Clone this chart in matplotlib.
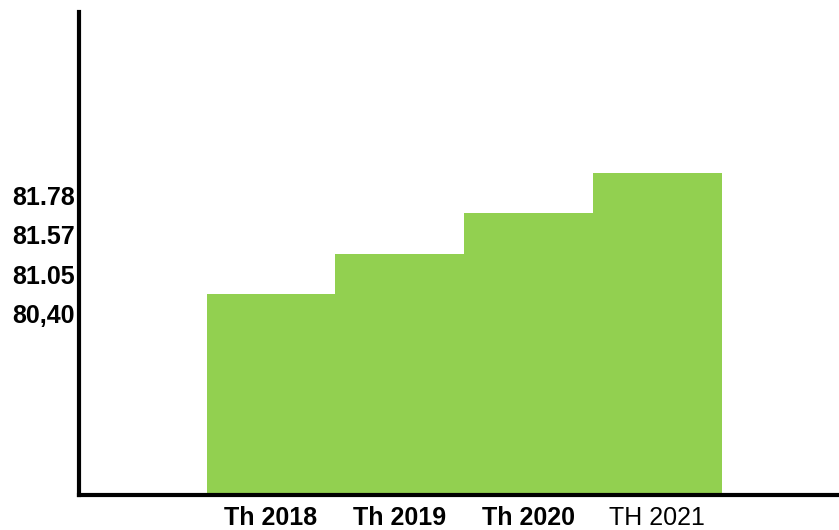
import matplotlib
matplotlib.use("Agg")
import matplotlib.pyplot as plt

# bar heights as drawn (arbitrary scale of the picture)
categories = ["Th 2018", "Th 2019", "Th 2020", "TH 2021"]
heights = [5, 6, 7, 8]
# y labels as printed on the chart, bottom to top
ytick_labels = ["80,40", "81.05", "81.57", "81.78"]
ytick_pos = [4.5, 5.48, 6.47, 7.43]

plt.rcParams["font.family"] = ["Liberation Sans", "DejaVu Sans"]

fig = plt.figure(figsize=(8.39, 5.30), dpi=100)
ax = fig.add_axes([79 / 839, 35 / 530, 760 / 839, 483 / 530])

x = list(range(len(categories)))
ax.bar(x, heights, width=1.0, color="#92D050", edgecolor="none")

ax.set_xlim(-1.49, 4.41)
ax.set_ylim(0, 12)

ax.set_xticks(x)
ax.set_xticklabels(categories, fontsize=18)
for lbl in ax.get_xticklabels()[:3]:
    lbl.set_fontweight("bold")
ax.set_yticks(ytick_pos)
ax.set_yticklabels(ytick_labels, fontsize=18, fontweight="bold")
ax.tick_params(axis="both", length=0)
ax.tick_params(axis="y", pad=3)
ax.tick_params(axis="x", pad=8)

for side in ["top", "right"]:
    ax.spines[side].set_visible(False)
for side in ["left", "bottom"]:
    ax.spines[side].set_linewidth(3)

fig.savefig("out.png", dpi=100)
